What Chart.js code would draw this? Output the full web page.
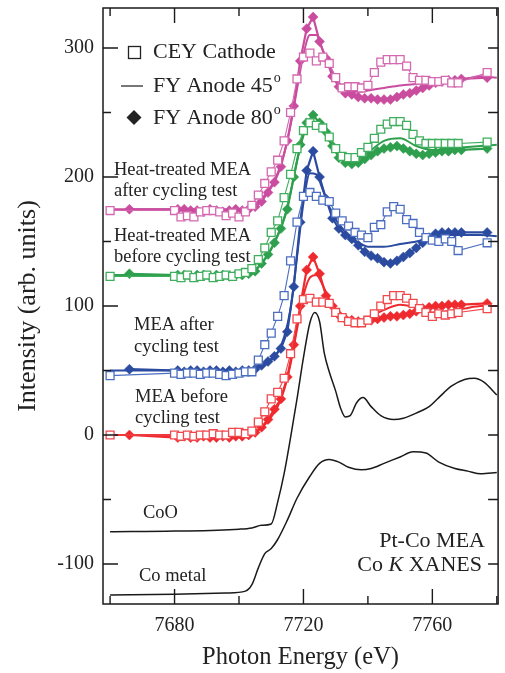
<!DOCTYPE html>
<html>
<head>
<meta charset="utf-8">
<script src="https://cdn.jsdelivr.net/npm/chart.js@4/dist/chart.umd.min.js"></script>
<style>
html,body{margin:0;padding:0;background:#fff;}
#wrap{width:505px;height:673px;}
</style>
</head>
<body>
<div id="wrap"><canvas id="c" width="505" height="673"></canvas></div>
<script>
// ---------- DATA ----------
// Energy grids (eV)
const E_CEY = [7660,7680,7682,7684,7686,7688,7690,7692,7694,7696,7698,7700,7702,7704,7706,7708,7710,7712,7714,7716,7718,7720,7722,7724,7726,7728,7730,7732,7734,7736,7738,7740,7742,7744,7746,7748,7750,7752,7754,7756,7758,7760,7762,7764,7766,7768,7777];
const E_FY80 = [7666,7681,7683,7685,7687,7689,7691,7693,7695,7697,7699,7701,7703,7705,7707,7709,7711,7713,7715,7717,7719,7721,7723,7725,7727,7729,7731,7733,7735,7737,7739,7741,7743,7745,7747,7749,7751,7753,7755,7757,7759,7761,7763,7765,7767,7769,7777];
const E_FY45 = [7660,7680,7690,7700,7704,7708,7710,7712,7714,7716,7718,7720,7722,7724,7726,7728,7730,7732,7734,7736,7738,7740,7745,7750,7755,7760,7765,7770,7775,7780];

// Heat-treated MEA after cycling test (magenta)
const magCEY  = [174,174,169,170,169,173,174,174,173,170,172,169,173,178,186,195,204,213,228,250,276,293,296,290,293,288,277,269,270,270,269,271,281,289,291,291,291,286,277,275,275,274,274,275,273,273,281];
const magFY80 = [175,175,175,174,174,173,175,174,173,174,175,174,175,177,181,188,196,208,228,255,290,315,324,305,292,278,270,265,264,262,261,261,260,260,260,262,264,265,267,269,271,273,274,275,275,276,277];
const magFY45 = [175,175,175,175,177,186,193,203,218,240,268,295,310,310,298,287,277,270,267,266,266,267,269,271,272,273,275,276,278,277];

// Heat-treated MEA before cycling test (green)
const grnCEY  = [123,123,122,124,122,123,124,122,123,124,123,125,126,129,136,145,157,166,184,202,222,236,242,240,238,231,222,216,215,215,219,223,230,237,241,243,243,240,233,228,226,226,226,226,226,226,227];
const grnFY80 = [125,124,124,123,124,124,123,124,124,123,124,124,125,127,133,140,149,160,175,200,225,242,248,242,235,224,215,211,210,211,214,217,220,222,223,224,222,220,218,217,218,219,220,220,221,221,222];
const grnFY45 = [124,124,124,124,126,136,144,155,168,188,212,232,242,242,236,228,221,215,213,213,216,219,228,230,224,221,222,223,224,225];

// MEA after cycling test (blue)
const bluCEY  = [46,48,47,48,48,47,48,48,47,46,47,48,49,49,58,70,79,92,108,135,165,185,188,185,182,181,172,166,162,157,155,153,161,163,173,177,175,167,164,157,153,151,150,152,150,143,149];
const bluFY80 = [51,50,49,50,50,49,50,50,49,50,49,50,50,51,54,57,61,67,80,115,165,205,220,200,183,168,160,155,152,147,142,139,137,134,133,135,138,141,145,149,153,156,157,157,157,157,157];
const bluFY45 = [50,50,50,50,51,55,58,64,76,98,138,180,203,202,190,177,167,160,155,151,148,146,146,148,150,153,155,155,155,154];

// MEA before cycling test (red)
const redCEY  = [0,0,-1,0,-1,0,0,1,0,0,2,2,1,3,10,18,28,33,44,63,90,105,106,103,103,102,95,91,88,87,87,89,94,100,105,108,108,106,102,98,95,92,94,93,94,95,98];
const redFY80 = [0,-2,-1,-2,-2,-1,-2,-2,-1,-2,-1,-1,0,2,6,12,20,28,45,70,100,128,138,125,108,100,93,90,89,88,88,89,90,91,92,92,93,94,96,98,99,100,100,101,101,101,102];
const redFY45 = [0,0,0,0,1,8,14,22,35,55,82,108,122,124,116,105,97,92,90,89,89,91,97,101,99,95,96,98,100,100];

// Reference spectra (black)
const E_CoO = [7660,7680,7700,7704,7707,7710,7712,7714,7716,7718,7720,7722,7723.5,7725,7726.5,7728,7730,7731.5,7733,7734.5,7736.5,7738.5,7741,7744,7748,7751,7755,7759,7762,7766,7770,7773,7776,7780];
const CoO   = [-75,-74.5,-73,-72,-70,-69,-52,-30,-2,28,60,87,95,88,63,49,34,21,14,15,25,29,22,15,12,13,17,22,29,38,43,44,41,31];
const E_Co  = [7660,7680,7696,7702,7704,7706,7708,7710,7712,7715,7718,7722,7725,7728,7731,7734,7738,7741,7745,7750,7754,7758,7762,7767,7771,7775,7780];
const CoMetal = [-124,-123.5,-122.5,-121,-116,-103,-92,-88,-81,-66,-49,-32,-22,-19,-21,-25,-27,-26,-22,-17,-13,-14,-21,-26,-28,-30,-29];

// Tick label values
const xTickLabels = [7680,7720,7760];
const yTickLabels = [300,200,100,0,-100];

// ---------- STYLE ----------
const SERIF = '"Liberation Serif", "Times New Roman", serif';
const groups = [
  {cey: magCEY, f80: magFY80, f45: magFY45, col: '#C94C9E', light: '#D468B0'},
  {cey: grnCEY, f80: grnFY80, f45: grnFY45, col: '#2E9F4C', light: '#3FAE5E'},
  {cey: bluCEY, f80: bluFY80, f45: bluFY45, col: '#2A4B9F', light: '#4C6EC0'},
  {cey: redCEY, f80: redFY80, f45: redFY45, col: '#EE2A2F', light: '#F0484D'}
];
function pairs(E, V){ return E.map((e,i)=>({x:e, y:V[i]})); }

const datasets = [];
groups.forEach(g => {
  datasets.push({data: pairs(E_CEY, g.cey), borderColor: g.light, borderWidth: 1.1,
    pointStyle: 'rect', pointRadius: 5.6, pointBorderWidth: 1.3, pointBorderColor: g.light,
    pointBackgroundColor: '#fff', tension: 0, order: 1});
  datasets.push({data: pairs(E_FY45, g.f45), borderColor: g.col, borderWidth: 2,
    pointRadius: 0, cubicInterpolationMode: 'monotone', order: 3});
  datasets.push({data: pairs(E_FY80, g.f80), borderColor: g.col, borderWidth: 2.2,
    pointStyle: 'rectRot', pointRadius: 5, pointBorderWidth: 0.5, pointBorderColor: g.col,
    pointBackgroundColor: g.col, tension: 0, order: 2});
});
datasets.push({data: pairs(E_CoO, CoO), borderColor: '#1a1a1a', borderWidth: 1.5, pointRadius: 0, cubicInterpolationMode: 'monotone', order: 4});
datasets.push({data: pairs(E_Co, CoMetal), borderColor: '#1a1a1a', borderWidth: 1.5, pointRadius: 0, cubicInterpolationMode: 'monotone', order: 4});

// ---------- PLUGINS ----------
const frameTicks = {
  id: 'frameTicks',
  afterDraw(chart){
    const {ctx, chartArea: a, scales: {x, y}} = chart;
    ctx.save();
    ctx.strokeStyle = '#1a1a1a';
    ctx.lineWidth = 1.5;
    ctx.strokeRect(a.left, a.top, a.right - a.left, a.bottom - a.top);
    ctx.lineWidth = 1.4;
    ctx.beginPath();
    x.ticks.forEach(t => {
      if (t.value % 20 !== 0) return;
      const px = x.getPixelForValue(t.value);
      const major = xTickLabels.includes(t.value);
      const L = major ? 15 : 8;
      ctx.moveTo(px, a.bottom); ctx.lineTo(px, a.bottom - L);
      ctx.moveTo(px, a.top); ctx.lineTo(px, a.top + L);
    });
    y.ticks.forEach(t => {
      if (t.value % 50 !== 0) return;
      const py = y.getPixelForValue(t.value);
      const major = yTickLabels.includes(t.value);
      const L = major ? 15 : 8;
      ctx.moveTo(a.left, py); ctx.lineTo(a.left + L, py);
      ctx.moveTo(a.right, py); ctx.lineTo(a.right - 10, py);
    });
    ctx.stroke();
    ctx.restore();
  }
};

const notes = {
  id: 'notes',
  afterDraw(chart){
    const ctx = chart.ctx;
    ctx.save();
    ctx.fillStyle = '#222';
    ctx.textBaseline = 'middle';
    ctx.textAlign = 'left';
    // group labels
    ctx.font = '18.5px ' + SERIF;
    [['Heat-treated MEA',114,170],['after cycling test',114,191],
     ['Heat-treated MEA',114,236],['before cycling test',114,257],
     ['MEA after',134,325],['cycling test',134,347],
     ['MEA before',135,397],['cycling test',135,418],
     ['CoO',143,513],['Co metal',139,576]].forEach(([t,xx,yy]) => ctx.fillText(t, xx, yy));
    // legend
    ctx.font = '22px ' + SERIF;
    ctx.strokeStyle = '#222';
    ctx.lineWidth = 1.3;
    ctx.fillStyle = '#fff';
    ctx.fillRect(128.5, 46.5, 12, 12);
    ctx.strokeRect(128.5, 46.5, 12, 12);
    ctx.fillStyle = '#222';
    ctx.fillText('CEY Cathode', 153, 52);
    ctx.strokeStyle = '#777';
    ctx.lineWidth = 2;
    ctx.beginPath(); ctx.moveTo(121, 86); ctx.lineTo(143, 86); ctx.stroke();
    function sup(base, xx, yy){
      ctx.font = '22px ' + SERIF;
      ctx.fillText(base, xx, yy);
      const w = ctx.measureText(base).width;
      ctx.font = '14px ' + SERIF;
      ctx.fillText('o', xx + w + 1, yy - 8);
    }
    sup('FY Anode 45', 153, 86);
    ctx.beginPath();
    ctx.moveTo(134, 110); ctx.lineTo(141.5, 117.5); ctx.lineTo(134, 125); ctx.lineTo(126.5, 117.5); ctx.closePath();
    ctx.fill();
    sup('FY Anode 80', 153, 118);
    // title block bottom right
    ctx.font = '22px ' + SERIF;
    ctx.textAlign = 'right';
    ctx.fillText('Pt-Co MEA', 485, 541);
    const p1 = 'Co ', p2 = 'K', p3 = ' XANES';
    ctx.textAlign = 'left';
    ctx.font = '22px ' + SERIF;
    const w1 = ctx.measureText(p1).width, w3 = ctx.measureText(p3).width;
    ctx.font = 'italic 22px ' + SERIF;
    const w2 = ctx.measureText(p2).width;
    let sx = 482 - (w1 + w2 + w3);
    ctx.font = '22px ' + SERIF; ctx.fillText(p1, sx, 565);
    ctx.font = 'italic 22px ' + SERIF; ctx.fillText(p2, sx + w1, 565);
    ctx.font = '22px ' + SERIF; ctx.fillText(p3, sx + w1 + w2, 565);
    ctx.restore();
  }
};

// ---------- CHART ----------
new Chart(document.getElementById('c'), {
  type: 'line',
  data: {datasets},
  options: {
    responsive: false,
    devicePixelRatio: 1,
    animation: false,
    events: [],
    layout: {padding: {top: 8, right: 3, left: 0, bottom: 0}},
    plugins: {legend: {display: false}, tooltip: {enabled: false}},
    scales: {
      x: {
        type: 'linear', position: 'bottom', min: 7657.8, max: 7780.4,
        grid: {display: false, drawTicks: false},
        border: {display: false},
        ticks: {stepSize: 20, includeBounds: false, autoSkip: false, maxRotation: 0,
          padding: 10, color: '#222', font: {family: SERIF, size: 20},
          callback: v => xTickLabels.includes(v) ? String(v) : ''},
        title: {display: true, text: 'Photon Energy (eV)', color: '#222',
          font: {family: SERIF, size: 24.5}, padding: {top: 0, bottom: 1}},
        afterFit: s => { s.height = 69; s.paddingLeft = 0; s.paddingRight = 0; }
      },
      y: {
        type: 'linear', position: 'left', min: -131, max: 331,
        grid: {display: false, drawTicks: false},
        border: {display: false},
        ticks: {stepSize: 50, includeBounds: false, autoSkip: false,
          padding: 9, color: '#222', font: {family: SERIF, size: 20},
          callback: v => yTickLabels.includes(v) ? String(v) : ''},
        title: {display: true, text: 'Intensity (arb. units)', color: '#222',
          font: {family: SERIF, size: 26}, padding: {top: 13, bottom: 0}},
        afterFit: s => { s.width = 103; s.paddingTop = 0; s.paddingBottom = 0; }
      }
    }
  },
  plugins: [frameTicks, notes]
});
</script>
</body>
</html>
